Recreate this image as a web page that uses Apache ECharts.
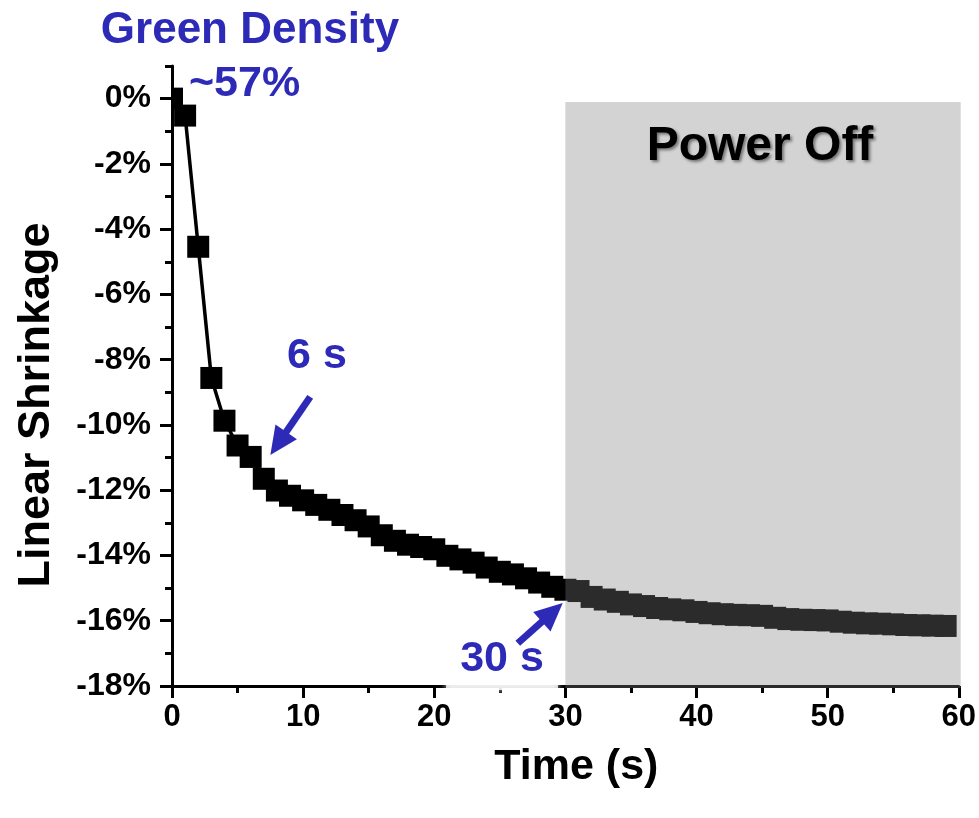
<!DOCTYPE html>
<html>
<head>
<meta charset="utf-8">
<style>
html,body{margin:0;padding:0;background:#fff;}
#chart{width:979px;height:818px;}
</style>
<script src="https://cdn.jsdelivr.net/npm/echarts@6/dist/echarts.min.js"></script>
</head>
<body>
<div id="chart"></div>
<script>
// ---- data ----
const times = [0,1,2,3,4,5,6,7,8,9,10,11,12,13,14,15,16,17,18,19,20,21,22,23,24,25,26,27,28,29,30,31,32,33,34,35,36,37,38,39,40,41,42,43,44,45,46,47,48,49,50,51,52,53,54,55,56,57,58,59];
const shrinkage = [0,-0.52,-4.54,-8.56,-9.87,-10.63,-10.98,-11.65,-12.01,-12.17,-12.31,-12.45,-12.60,-12.76,-12.92,-13.11,-13.38,-13.55,-13.67,-13.74,-13.81,-14.01,-14.12,-14.22,-14.37,-14.50,-14.58,-14.70,-14.83,-14.96,-15.05,-15.09,-15.27,-15.35,-15.42,-15.50,-15.55,-15.61,-15.65,-15.68,-15.73,-15.77,-15.80,-15.82,-15.83,-15.85,-15.91,-15.95,-15.97,-15.98,-15.99,-16.03,-16.06,-16.08,-16.09,-16.11,-16.13,-16.14,-16.15,-16.16];
const yMajorTicks = [0,-2,-4,-6,-8,-10,-12,-14,-16,-18];
const xTicks = [0,10,20,30,40,50,60];
const powerOffRange = [30, 60.15, -0.1, -18.06];   // t0, t1, top, bottom
const arrows = [[10.54,-9.14,7.5,-10.92],[26.37,-16.69,29.8,-15.46]];

const FONT = 'Arial, "Liberation Sans", Helvetica, sans-serif';
const BLUE = '#2d2ab8';

const pts = times.map((t,i)=>[t, shrinkage[i]]);

const chart = echarts.init(document.getElementById('chart'), null, {renderer:'canvas'});
const option = {
  animation:false,
  backgroundColor:'#fff',
  grid:{left:172, right:19, top:66, bottom:132, containLabel:false},
  xAxis:{
    type:'value', min:0, max:60, interval:10,
    axisLine:{show:true, onZero:false, lineStyle:{color:'#000', width:3}},
    axisTick:{show:true, length:12, lineStyle:{color:'#000', width:3}},
    minorTick:{show:true, splitNumber:2, length:7, lineStyle:{color:'#000', width:3}},
    axisLabel:{fontSize:31, fontWeight:'bold', color:'#000', fontFamily:FONT, margin:16,
      customValues: xTicks},
    splitLine:{show:false},
    name:'Time (s)', nameLocation:'middle', nameGap:60,
    nameTextStyle:{fontSize:43, fontWeight:'bold', color:'#000', fontFamily:FONT, padding:[0,0,0,22]}
  },
  yAxis:[{
    type:'value', min:-18, max:1, interval:1, position:'left',
    axisLine:{show:true, onZero:false, lineStyle:{color:'#000', width:3}},
    axisTick:{show:true, length:7, lineStyle:{color:'#000', width:3}},
    axisLabel:{fontSize:32, fontWeight:'bold', color:'#000', fontFamily:FONT, margin:21,
      customValues: yMajorTicks, formatter:(v)=> v + '%'},
    splitLine:{show:false}
  },{
    type:'value', min:-18, max:1, interval:1, position:'left',
    axisLine:{show:false},
    axisTick:{show:true, length:12, customValues: yMajorTicks, lineStyle:{color:'#000', width:3}},
    axisLabel:{show:false},
    splitLine:{show:false}
  }],
  series:[
    {
      type:'line', data:pts, symbol:'none', z:2,
      lineStyle:{color:'#000', width:3.5}, silent:true
    },
    {
      type:'custom', data:pts, z:3, clip:true, silent:true,
      encode:{x:0, y:1},
      renderItem:(params, api)=>{
        const p = api.coord([api.value(0), api.value(1)]);
        const s = 22;
        return {type:'rect', shape:{x:p[0]-s/2, y:p[1]-s/2, width:s, height:s},
          style:{fill:'#000'}};
      }
    },
    {
      type:'custom', data:[powerOffRange], z:5, clip:false, silent:true,
      encode:{x:[0,1], y:[2,3]},
      renderItem:(params, api)=>{
        const a = api.coord([api.value(0), api.value(2)]);
        const b = api.coord([api.value(1), api.value(3)]);
        return {type:'rect', shape:{x:a[0], y:a[1], width:b[0]-a[0], height:b[1]-a[1]},
          style:{fill:'rgba(125,125,125,0.34)'}};
      }
    },
    {
      type:'custom', data:arrows, z:7, clip:false, silent:true,
      encode:{x:[0,2], y:[1,3]},
      renderItem:(params, api)=>{
        const a = api.coord([api.value(0), api.value(1)]);
        const b = api.coord([api.value(2), api.value(3)]);
        const dx=b[0]-a[0], dy=b[1]-a[1];
        const L=Math.sqrt(dx*dx+dy*dy);
        const ux=dx/L, uy=dy/L, px=-uy, py=ux;
        const hl=28, hw=13;
        const bx=b[0]-ux*hl, by=b[1]-uy*hl;
        return {type:'group', children:[
          {type:'line', shape:{x1:a[0], y1:a[1], x2:bx+ux*4, y2:by+uy*4},
            style:{stroke:BLUE, lineWidth:7}},
          {type:'polygon', shape:{points:[[b[0],b[1]],[bx+px*hw,by+py*hw],[bx-px*hw,by-py*hw]]},
            style:{fill:BLUE}}
        ]};
      }
    }
  ],
  graphic:[
    {type:'rect', z:6, shape:{x:446, y:631, width:112, height:59},
      style:{fill:'rgba(255,255,255,0.8)', shadowBlur:6, shadowColor:'rgba(255,255,255,0.9)'}},
    {type:'text', z:20, rotation:Math.PI/2, x:37, y:405,
      style:{text:'Linear Shrinkage', x:0, y:0, textAlign:'center', textVerticalAlign:'middle',
      font:'bold 45px '+FONT, fill:'#000'}},
    {type:'text', z:20, style:{text:'Green Density', x:250, y:31, textAlign:'center', textVerticalAlign:'middle',
      font:'bold 44px '+FONT, fill:BLUE}},
    {type:'text', z:20, style:{text:'~57%', x:189, y:84, textAlign:'left', textVerticalAlign:'middle',
      font:'bold 43px '+FONT, fill:BLUE}},
    {type:'text', z:20, style:{text:'6 s', x:317, y:356, textAlign:'center', textVerticalAlign:'middle',
      font:'bold 43px '+FONT, fill:BLUE}},
    {type:'text', z:20, style:{text:'30 s', x:502, y:659, textAlign:'center', textVerticalAlign:'middle',
      font:'bold 43px '+FONT, fill:BLUE}},
    {type:'text', z:20, style:{text:'Power Off', x:760, y:147, textAlign:'center', textVerticalAlign:'middle',
      font:'bold 48px '+FONT, fill:'#000', textShadowColor:'rgba(0,0,0,0.45)', textShadowBlur:3,
      textShadowOffsetX:2, textShadowOffsetY:2}}
  ]
};
chart.setOption(option);
</script>
</body>
</html>
